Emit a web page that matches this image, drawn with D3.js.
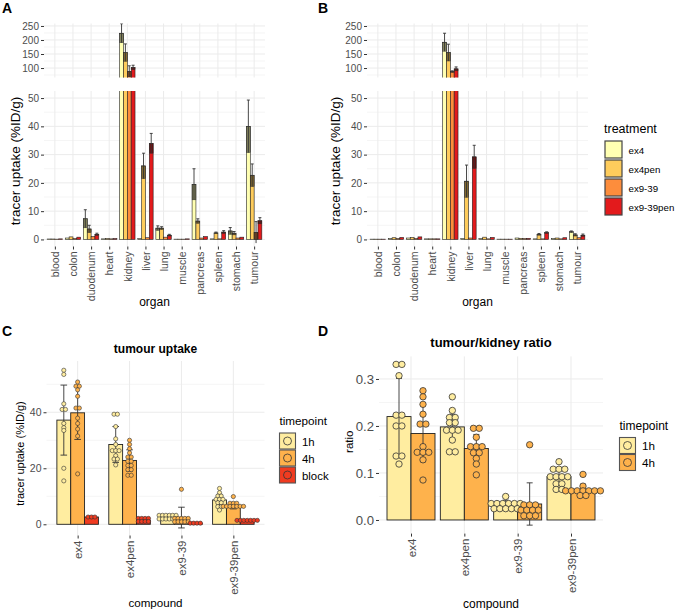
<!DOCTYPE html>
<html lang="en">
<head>
<meta charset="UTF-8">
<title>tracer uptake</title>
<style>
  body { margin: 0; background: #fff; }
  svg { display: block; font-family: "Liberation Sans", Arial, sans-serif; }
  .grid line { stroke: #ebebeb; stroke-width: 1; }
  .grid line.minor { stroke: #f5f5f5; }
  .axis text { fill: #4d4d4d; }
  .axis line { stroke: #333; }
</style>
</head>
<body>
<div id="fig"></div>
<script src="https://d3js.org/d3.v7.min.js"></script>
<script>
// ---- panel A / B : biodistribution ----
var organs = ["blood", "colon", "duodenum", "heart", "kidney", "liver", "lung", "muscle", "pancreas", "spleen", "stomach", "tumour"];
var treatments = ["ex4", "ex4pen", "ex9-39", "ex9-39pen"];
var treatmentColors = ["#ffffb2", "#fecc5c", "#fd8d3c", "#e31a1c"];

// means / sd in organ order
var aEx4       = [0.15, 0.5, 7.3, 0.2, 224, 0.3, 4.0, 0.1, 19.5, 0.2, 3.0, 40.0];
var aEx4Sd     = [0.05, 0.1, 3.2, 0.05, 34, 0.1, 0.8, 0.03, 5.5, 0.05, 1.2, 9.3];
var aEx4pen    = [0.15, 0.9, 3.7, 0.3, 155, 26.0, 4.0, 0.1, 6.5, 2.3, 2.2, 22.7];
var aEx4penSd  = [0.05, 0.2, 1.3, 0.05, 31, 4.5, 0.5, 0.03, 0.8, 0.3, 0.6, 4.0];
var aEx939     = [0.1, 0.3, 1.0, 0.2, 88, 0.6, 0.8, 0.1, 0.5, 0.2, 0.5, 2.5];
var aEx939Sd   = [0.03, 0.1, 0.2, 0.05, 20, 0.1, 0.2, 0.02, 0.1, 0.05, 0.1, 3.8];
var aEx939pen  = [0.2, 0.8, 1.8, 0.3, 102, 34.0, 1.5, 0.2, 1.0, 2.6, 0.8, 6.6];
var aEx939penSd= [0.05, 0.1, 0.4, 0.05, 8, 3.5, 0.3, 0.05, 0.2, 0.5, 0.1, 1.1];

var bEx4       = [0.1, 0.3, 0.5, 0.2, 192, 0.3, 0.3, 0.1, 0.5, 0.2, 0.3, 2.7];
var bEx4Sd     = [0.02, 0.05, 0.1, 0.03, 32, 0.05, 0.05, 0.02, 0.1, 0.05, 0.05, 0.3];
var bEx4pen    = [0.1, 0.6, 0.7, 0.2, 155, 20.6, 0.8, 0.1, 0.4, 1.8, 0.5, 1.6];
var bEx4penSd  = [0.02, 0.1, 0.1, 0.03, 30, 5.7, 0.1, 0.02, 0.05, 0.3, 0.1, 0.4];
var bEx939     = [0.1, 0.3, 0.3, 0.2, 87, 0.5, 0.2, 0.1, 0.3, 0.2, 0.2, 0.6];
var bEx939Sd   = [0.02, 0.05, 0.05, 0.03, 3, 0.1, 0.05, 0.02, 0.05, 0.05, 0.05, 0.1];
var bEx939pen  = [0.1, 0.7, 0.9, 0.2, 97, 29.2, 0.7, 0.1, 0.4, 2.4, 0.6, 1.5];
var bEx939penSd= [0.02, 0.1, 0.2, 0.03, 7, 4.1, 0.1, 0.02, 0.05, 0.3, 0.1, 0.4];

var topTicks = [100, 150, 200, 250];
var topMinor = [75, 125, 175, 225];
var lowTicks = [0, 10, 20, 30, 40, 50];
var lowMinor = [5, 15, 25, 35, 45];

// ---- panel C / D ----
var compounds = ["ex4", "ex4pen", "ex9-39", "ex9-39pen"];
var timepoints = ["1h", "4h", "block"];
var timeColors = ["#ffeda0", "#feb24c", "#f03b20"];

var cMean1h = [37.2, 28.5, 3.0, 8.7];
var cSd1h   = [12.5, 6.4, 0.5, 1.8];
var cMean4h = [39.8, 22.8, 2.4, 6.4];
var cSd4h   = [9.5, 3.8, 3.7, 0.9];
var cMeanBl = [2.6, 1.4, 0.4, 1.3];
var cSdBl   = [0.3, 0.6, 0.1, 0.1];
var cPts1h = [
  [55, 53.5, 43, 41, 41, 36, 34.5, 33.5, 20, 15.5],
  [39.3, 39.3, 34.9, 30.5, 28.5, 26.3, 26.3, 26.3, 24.5, 23.3, 23.3, 21.2],
  [3.2, 3.2, 3.2, 3.2, 3.2, 3.2, 1.9, 1.9, 1.9, 1.9, 1.9, 1.9],
  [12.8, 11.3, 10.1, 10.1, 8.9, 8.9, 8.9, 7.7, 7.7, 6.3, 6.3, 5.1]
];
var cPts4h = [
  [50.8, 49.3, 49.3, 48, 45.7, 41.5, 41.5, 37.9, 36, 34, 31.5, 18],
  [30, 28.5, 27, 25.5, 24, 24, 22.5, 22.5, 21, 21, 19.5, 19.5, 17.5, 17.5],
  [12.5, 2.1, 2.1, 2.1, 2.1, 2.1, 0.9, 0.9, 0.9, 0.9, 0.9],
  [9.9, 7.5, 7.5, 7.5, 6.4, 6.4, 6.4, 6.4, 6.4, 6.4, 6.4]
];
var cPtsBl = [
  [2.6, 2.6, 2.6],
  [2.1, 2.1, 2.1, 2.1, 1.0, 1.0, 1.0, 1.0],
  [0.4, 0.4, 0.4, 0.4],
  [1.4, 1.4, 1.4, 1.4, 1.4, 1.4, 1.4]
];
var cTicks = [0, 20, 40];
var cMinor = [10, 30, 50];

var dMean1h = [0.220, 0.198, 0.036, 0.092];
var dSd1h   = [0.081, 0.027, 0.006, 0.018];
var dMean4h = [0.184, 0.152, 0.034, 0.062];
var dSd4h   = [0.060, 0.030, 0.045, 0.014];
var dPts1h = [
  [0.331, 0.331, 0.307, 0.223, 0.223, 0.200, 0.200, 0.136, 0.136, 0.119],
  [0.262, 0.233, 0.218, 0.218, 0.207, 0.207, 0.191, 0.191, 0.191, 0.170, 0.145, 0.145],
  [0.050, 0.035, 0.035, 0.035, 0.035, 0.035, 0.035, 0.024, 0.024, 0.024, 0.024, 0.024],
  [0.124, 0.108, 0.108, 0.108, 0.092, 0.092, 0.092, 0.092, 0.077, 0.077, 0.065, 0.065]
];
var dPts4h = [
  [0.275, 0.262, 0.246, 0.225, 0.204, 0.204, 0.156, 0.144, 0.144, 0.144, 0.128, 0.085],
  [0.195, 0.195, 0.176, 0.156, 0.156, 0.156, 0.143, 0.143, 0.131, 0.119, 0.096],
  [0.160, 0.032, 0.032, 0.032, 0.021, 0.021, 0.021, 0.021, 0.009, 0.009, 0.009],
  [0.097, 0.072, 0.062, 0.062, 0.062, 0.062, 0.062, 0.062, 0.062, 0.052, 0.052]
];
var dTicks = [0, 0.1, 0.2, 0.3];
var dMinor = [0.05, 0.15, 0.25];

var FONT = "Liberation Sans, Arial, sans-serif";

var svg = d3.select("#fig").append("svg")
    .attr("width", 676)
    .attr("height", 610);
var defs = svg.append("defs");

function gridY(g, y, major, minor, x0, x1) {
    var gg = g.append("g").attr("class", "grid");
    gg.selectAll("line.minor").data(minor).enter().append("line")
        .attr("class", "minor")
        .attr("x1", x0).attr("x2", x1)
        .attr("y1", d => y(d)).attr("y2", d => y(d));
    gg.selectAll("line.major").data(major).enter().append("line")
        .attr("class", "major")
        .attr("x1", x0).attr("x2", x1)
        .attr("y1", d => y(d)).attr("y2", d => y(d));
}

function gridX(g, x, y0, y1) {
    g.append("g").attr("class", "grid")
        .selectAll("line").data(x.domain()).enter().append("line")
        .attr("x1", d => x(d)).attr("x2", d => x(d))
        .attr("y1", y0).attr("y2", y1);
}

function yAxis(g, y, ticks, x0, fs, fmt) {
    var ax = g.append("g").attr("class", "axis")
        .attr("transform", `translate(${x0},0)`)
        .call(d3.axisLeft(y).tickValues(ticks).tickSize(3).tickPadding(2).tickFormat(fmt || d3.format("d")));
    ax.select(".domain").remove();
    ax.attr("font-family", FONT).attr("font-size", fs);
}

function xAxis(g, x, y0, fs) {
    var ax = g.append("g").attr("class", "axis")
        .attr("transform", `translate(0,${y0})`)
        .call(d3.axisBottom(x).tickSize(3).tickPadding(2));
    ax.select(".domain").remove();
    ax.attr("font-family", FONT).attr("font-size", fs);
    ax.selectAll("text")
        .attr("transform", "rotate(-90)")
        .attr("text-anchor", "end")
        .attr("x", -5).attr("y", 0).attr("dy", "0.35em");
}

function label(txt, x, y, fs, opts) {
    opts = opts || {};
    var t = svg.append("text").text(txt)
        .attr("x", x).attr("y", y)
        .attr("font-size", fs)
        .attr("fill", opts.fill || "#000")
        .attr("text-anchor", opts.anchor || "start");
    if (opts.bold) t.attr("font-weight", "bold");
    if (opts.rotate) t.attr("transform", `rotate(-90,${x},${y})`);
    return t;
}

// ---------- A and B ----------
function organPanel(id, x0, x1, meanSets, sdSets) {
    var g = svg.append("g");
    var x = d3.scalePoint().domain(organs).range([x0, x1]).padding(0.6);
    var dodge = d3.scaleBand().domain(treatments)
        .range([-0.425 * x.step(), 0.425 * x.step()]);

    var rows = [];
    treatments.forEach((t, i) => {
        organs.forEach((o, j) => {
            rows.push({organ: o, t: t, c: treatmentColors[i], mean: meanSets[i][j], sd: sdSets[i][j]});
        });
    });

    var parts = [
        {y: d3.scaleLinear().domain([66.25, 258.75]).range([77.5, 23.5]), major: topTicks, minor: topMinor, top: 23.5, bottom: 77.5},
        {y: d3.scaleLinear().domain([-2.5, 52.5]).range([246.5, 91]), major: lowTicks, minor: lowMinor, top: 91, bottom: 246.5}
    ];

    parts.forEach((p, k) => {
        var y = p.y;
        gridY(g, y, p.major, p.minor, x0, x1);
        gridX(g, x, p.top, p.bottom);

        var cid = `${id}clip${k}`;
        defs.append("clipPath").attr("id", cid).append("rect")
            .attr("x", x0).attr("y", p.top).attr("width", x1 - x0).attr("height", p.bottom - p.top);
        var gc = g.append("g").attr("clip-path", `url(#${cid})`);

        gc.selectAll("rect.bar").data(rows).enter().append("rect")
            .attr("class", "bar")
            .attr("x", d => x(d.organ) + dodge(d.t))
            .attr("width", dodge.bandwidth())
            .attr("y", d => y(d.mean))
            .attr("height", d => y(0) - y(d.mean))
            .attr("fill", d => d.c)
            .attr("stroke", "#222").attr("stroke-width", 0.6);

        gc.selectAll("rect.sd").data(rows.filter(d => d.sd > 0.25)).enter().append("rect")
            .attr("class", "sd")
            .attr("x", d => x(d.organ) + dodge(d.t))
            .attr("width", dodge.bandwidth())
            .attr("y", d => y(d.mean))
            .attr("height", d => y(Math.max(d.mean - d.sd, 0)) - y(d.mean))
            .attr("fill", "rgba(0,0,0,0.48)")
            .attr("stroke", "#333").attr("stroke-width", 0.4);

        var cx = d => x(d.organ) + dodge(d.t) + dodge.bandwidth() / 2;
        gc.selectAll("line.err").data(rows.filter(d => d.sd > 0.25)).enter().append("line")
            .attr("class", "err")
            .attr("x1", cx).attr("x2", cx)
            .attr("y1", d => y(d.mean - d.sd)).attr("y2", d => y(d.mean + d.sd))
            .attr("stroke", "#333").attr("stroke-width", 0.9);
        gc.selectAll("line.cap").data(rows.filter(d => d.sd > 0.25)).enter().append("line")
            .attr("class", "cap")
            .attr("x1", d => cx(d) - 1.5).attr("x2", d => cx(d) + 1.5)
            .attr("y1", d => y(d.mean + d.sd)).attr("y2", d => y(d.mean + d.sd))
            .attr("stroke", "#333").attr("stroke-width", 0.9);

        yAxis(g, y, p.major, x0, 10);
        if (k === 1) xAxis(g, x, p.bottom, 10.5);
    });
    return x;
}

organPanel("a", 44, 265,
    [aEx4, aEx4pen, aEx939, aEx939pen],
    [aEx4Sd, aEx4penSd, aEx939Sd, aEx939penSd]);
organPanel("b", 367, 588,
    [bEx4, bEx4pen, bEx939, bEx939pen],
    [bEx4Sd, bEx4penSd, bEx939Sd, bEx939penSd]);

label("A", 2, 13, 14, {bold: true});
label("B", 318, 13, 14, {bold: true});
label("tracer uptake (%ID/g)", 20, 161, 13.5, {rotate: true, anchor: "middle"});
label("tracer uptake (%ID/g)", 340, 161, 13.5, {rotate: true, anchor: "middle"});
label("organ", 154.5, 306, 12, {anchor: "middle"});
label("organ", 477.5, 306, 12, {anchor: "middle"});

// treatment legend
label("treatment", 604, 132.5, 12.5);
treatments.forEach((t, i) => {
    svg.append("rect")
        .attr("x", 605).attr("y", 141 + i * 19)
        .attr("width", 17).attr("height", 17)
        .attr("fill", treatmentColors[i])
        .attr("stroke", "#444").attr("stroke-width", 1.2);
    label(t, 628.5, 141 + i * 19 + 12.5, 9.7);
});

// ---------- C and D ----------
function compoundPanel(o) {
    var g = svg.append("g");
    var x = d3.scalePoint().domain(compounds).range([o.x0, o.x1]).padding(0.6);
    var dodge = d3.scaleBand().domain(o.groups)
        .range([-o.width / 2 * x.step(), o.width / 2 * x.step()]);
    var y = d3.scaleLinear().domain(o.domain).range([o.bottom, o.top]);

    gridY(g, y, o.ticks, o.minor, o.x0, o.x1);
    gridX(g, x, o.top, o.bottom);

    var rows = [], dots = [];
    o.groups.forEach((grp, k) => {
        compounds.forEach((c, i) => {
            var cx = x(c) + dodge(grp) + dodge.bandwidth() / 2;
            rows.push({c: c, grp: grp, cx: cx, col: o.colors[k], mean: o.means[k][i], sd: o.sds[k][i]});
            d3.groups(o.points[k][i], v => v).forEach(([v, arr]) => {
                arr.forEach((_, m) => {
                    dots.push({x: cx + (m - (arr.length - 1) / 2) * o.spacing, y: y(v), col: o.colors[k]});
                });
            });
        });
    });

    g.selectAll("rect.bar").data(rows).enter().append("rect")
        .attr("x", d => d.cx - dodge.bandwidth() / 2)
        .attr("width", dodge.bandwidth())
        .attr("y", d => y(d.mean))
        .attr("height", d => y(0) - y(d.mean))
        .attr("fill", d => d.col)
        .attr("stroke", "#222").attr("stroke-width", 0.9);

    g.selectAll("line.err").data(rows).enter().append("line")
        .attr("x1", d => d.cx).attr("x2", d => d.cx)
        .attr("y1", d => y(d.mean - d.sd)).attr("y2", d => y(d.mean + d.sd))
        .attr("stroke", "#333").attr("stroke-width", 0.9);
    [-1, 1].forEach(s => {
        g.selectAll(null).data(rows).enter().append("line")
            .attr("x1", d => d.cx - o.cap).attr("x2", d => d.cx + o.cap)
            .attr("y1", d => y(d.mean + s * d.sd)).attr("y2", d => y(d.mean + s * d.sd))
            .attr("stroke", "#333").attr("stroke-width", 0.9);
    });

    g.selectAll("circle.dot").data(dots).enter().append("circle")
        .attr("cx", d => d.x).attr("cy", d => d.y)
        .attr("r", o.r)
        .attr("fill", d => d.col)
        .attr("stroke", "#333").attr("stroke-width", o.r > 3 ? 0.8 : 0.6);

    yAxis(g, y, o.ticks, o.x0, o.yfs, o.fmt);
    xAxis(g, x, o.bottom, 11.5);
}

compoundPanel({
    x0: 46.5, x1: 264.5, top: 361, bottom: 535.5, domain: [-4, 58.3],
    groups: timepoints, colors: timeColors, width: 0.8,
    means: [cMean1h, cMean4h, cMeanBl], sds: [cSd1h, cSd4h, cSdBl],
    points: [cPts1h, cPts4h, cPtsBl],
    ticks: cTicks, minor: cMinor, r: 2.1, spacing: 3.4, cap: 3.3, yfs: 10.5
});
compoundPanel({
    x0: 379, x1: 603, top: 356.4, bottom: 533.6, domain: [-0.029, 0.348],
    groups: ["1h", "4h"], colors: timeColors.slice(0, 2), width: 0.9,
    means: [dMean1h, dMean4h], sds: [dSd1h, dSd4h],
    points: [dPts1h, dPts4h],
    ticks: dTicks, minor: dMinor, r: 3.2, spacing: 5.8, cap: 3, yfs: 13.2, fmt: d3.format(".1f")
});

label("C", 2, 336, 14, {bold: true});
label("D", 318, 336, 14, {bold: true});
label("tumour uptake", 155.5, 353, 12, {bold: true, anchor: "middle"});
label("tumour/kidney ratio", 491, 347, 13, {bold: true, anchor: "middle"});
label("tracer uptake (%ID/g)", 24, 453.5, 11, {rotate: true, anchor: "middle"});
label("ratio", 353, 441.7, 11.5, {rotate: true, anchor: "middle"});
label("compound", 155.5, 607, 11.6, {anchor: "middle"});
label("compound", 491, 607.5, 12, {anchor: "middle"});

function timeLegend(x0, y0, n, fs) {
    label("timepoint", x0, y0, fs);
    timepoints.slice(0, n).forEach((t, i) => {
        var ky = y0 + 8 + i * 17;
        svg.append("rect")
            .attr("x", x0).attr("y", ky)
            .attr("width", 16).attr("height", 16)
            .attr("fill", timeColors[i])
            .attr("stroke", "#555").attr("stroke-width", 1.1);
        svg.append("circle")
            .attr("cx", x0 + 8).attr("cy", ky + 8).attr("r", 4)
            .attr("fill", "none").attr("stroke", "#333").attr("stroke-width", 0.8);
        label(t, x0 + 22.5, ky + 12.5, fs - 0.3);
    });
}
timeLegend(279.5, 425, 3, 11.7);
timeLegend(619.5, 429.5, 2, 12);
</script>
</body>
</html>
